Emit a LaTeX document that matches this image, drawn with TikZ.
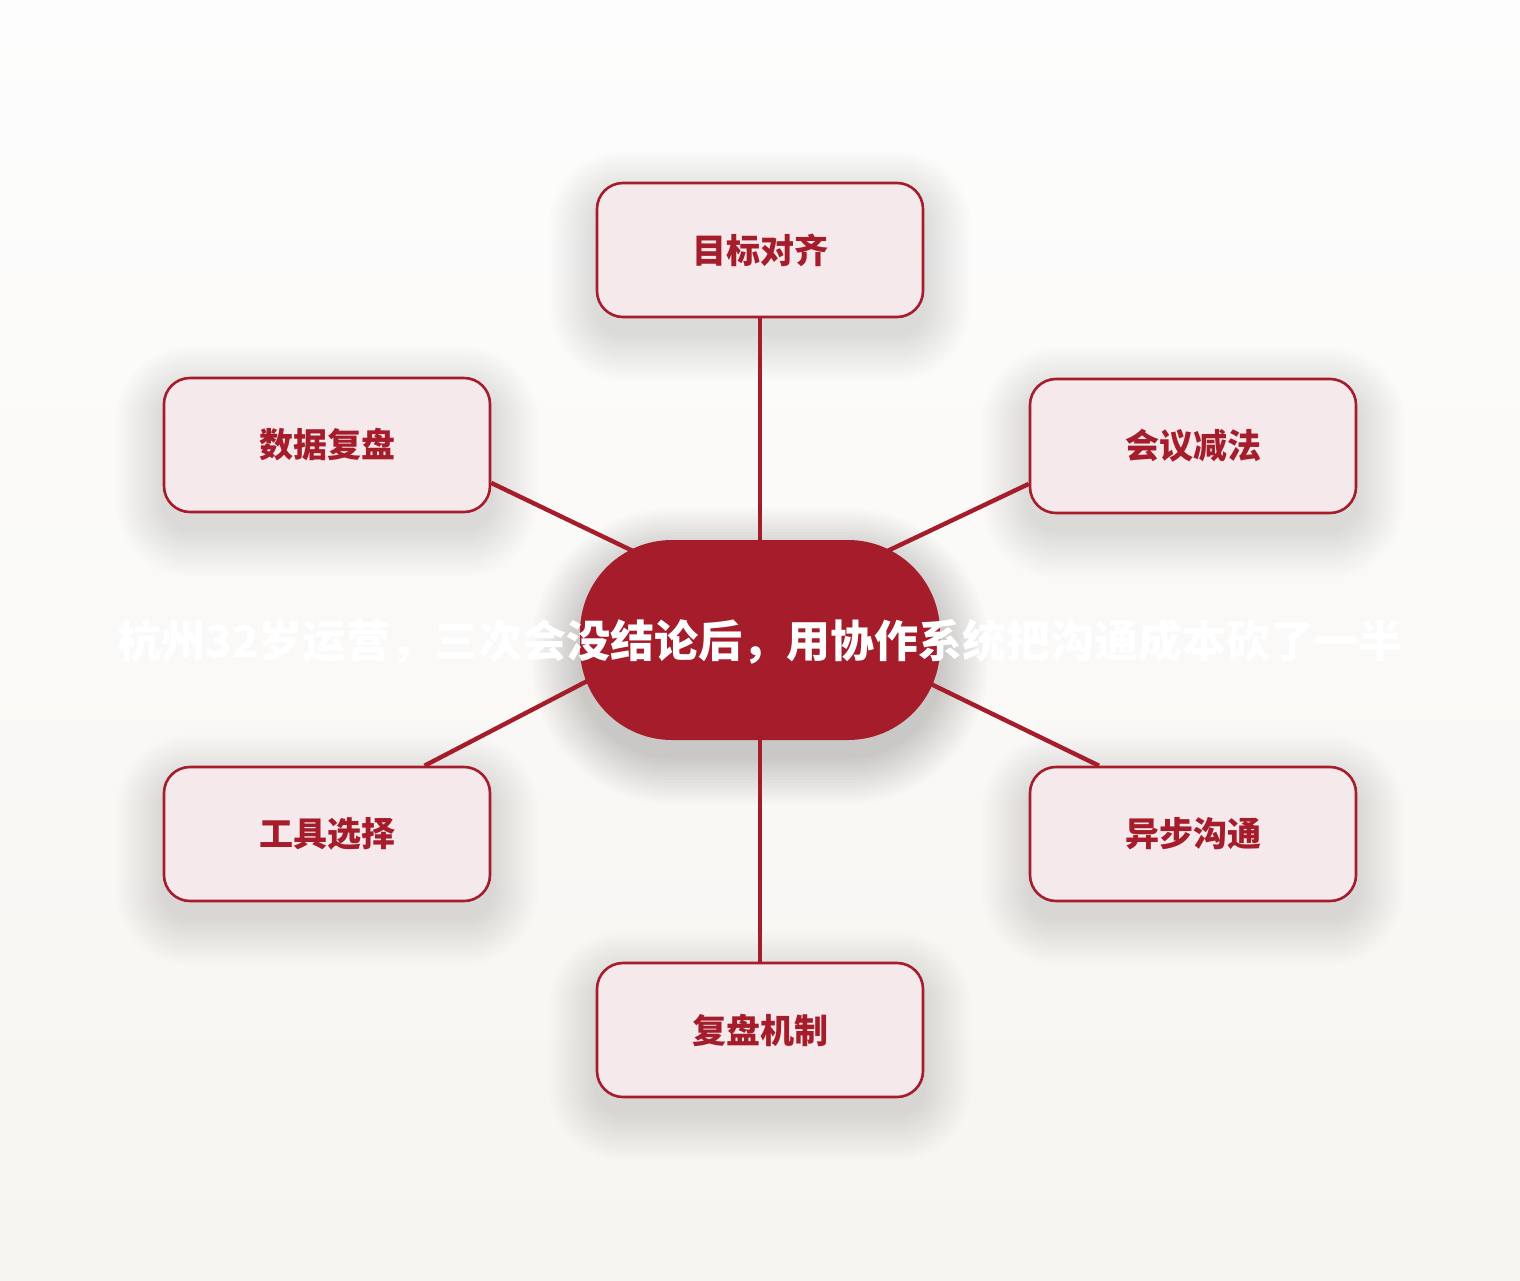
\documentclass[tikz,border=0pt]{standalone}
\usepackage{fontspec}
\newfontfamily\cjk{Noto Sans CJK SC}
\usetikzlibrary{backgrounds,calc}
\definecolor{crimson}{HTML}{A51C2B}
\definecolor{blush}{HTML}{F5E9EB}
\tikzset{
	topic/.style={draw=crimson, line width=1.3pt, fill=blush, rounded corners=13pt,
		minimum width=163pt, minimum height=67pt, text=crimson,
		font=\cjk\bfseries\fontsize{17}{20}\selectfont},
	hub/.style={fill=crimson, rounded corners=46pt, minimum width=180pt, minimum height=100pt},
	hubtext/.style={text=white, font=\cjk\bfseries\fontsize{22}{26}\selectfont},
	link/.style={crimson, line width=2.2pt},
}

\begin{document}
\begin{tikzpicture}[x=0.5pt, y=-0.5pt]
	\useasboundingbox (0,0) rectangle (1520,1280);

	\node[hub] (hub) at (760,640) {};
	\node[hubtext] (hubtitle) at (760,642) {杭州32岁运营，三次会没结论后，用协作系统把沟通成本砍了一半};

	\node[topic] (goal) at (760,250) {目标对齐};
	\node[topic] (data) at (327,445) {数据复盘};
	\node[topic] (meet) at (1193,446) {会议减法};
	\node[topic] (tool) at (327,834) {工具选择};
	\node[topic] (async) at (1193,834) {异步沟通};
	\node[topic] (review) at (760,1030) {复盘机制};

	\begin{scope}[on background layer]
		\shade [top color={rgb,255:red,253;green,253;blue,253}, bottom color={rgb,255:red,247;green,245;blue,241}]
			(0,0) rectangle (1520,1280);

		% soft shadows
		\foreach \cx/\cy in {760/250, 327/445, 1193/446, 327/834, 1193/834, 760/1030}{
			\foreach \k in {1,...,16}{
				\pgfmathsetmacro\e{\k*3}
				\fill [black, opacity=0.009, rounded corners=13pt+\e*0.5pt]
					(\cx-163-\e, \cy-67-\e+16) rectangle (\cx+163+\e, \cy+67+\e+16);
			}
		}
		\foreach \k in {1,...,16}{
			\pgfmathsetmacro\e{\k*3}
			\fill [black, opacity=0.01, rounded corners=46pt+\e*0.5pt]
				(580-\e, 540-\e+16) rectangle (940+\e, 740+\e+16);
		}

		\draw [link] (hub.center) -- (goal.center);
		\draw [link] ($(hub.center)+(-100,-76)$) -- (data.-13.5);
		\draw [link] ($(hub.center)+(100,-76)$) -- (meet.193.8);
		\draw [link] ($(hub.center)+(-140,24)$) -- (tool.35.8);
		\draw [link] ($(hub.center)+(140,29)$) -- (async.144.2);
		\draw [link] (hub.center) -- (review.center);
	\end{scope}
\end{tikzpicture}
\end{document}
